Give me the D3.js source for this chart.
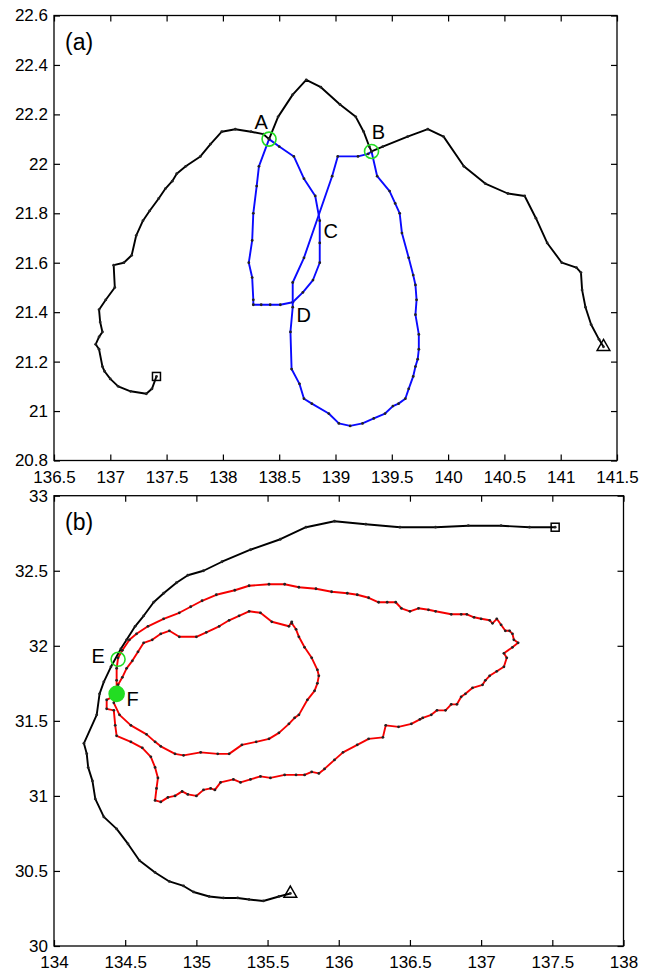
<!DOCTYPE html>
<html>
<head>
<meta charset="utf-8">
<script src="https://cdn.jsdelivr.net/npm/d3@7"></script>
<style>
  body { margin: 0; background: #fff; }
  svg { display: block; font-family: "Liberation Sans", Arial, sans-serif; }
</style>
</head>
<body>
<svg id="chart" width="651" height="971"></svg>
<script>
// ---- panel (a) data: [lon, lat] ----
const trackA = [
  [137.41, 21.14], [137.37, 21.09], [137.32, 21.07], [137.18, 21.08], [137.07, 21.10],
  [137.00, 21.13], [136.95, 21.16], [136.93, 21.18], [136.90, 21.25], [136.87, 21.27],
  [136.90, 21.30], [136.93, 21.32], [136.91, 21.36], [136.90, 21.41], [136.96, 21.45],
  [137.04, 21.50], [137.03, 21.59], [137.12, 21.60], [137.19, 21.63], [137.23, 21.71],
  [137.29, 21.77], [137.35, 21.81], [137.43, 21.86], [137.49, 21.90], [137.55, 21.93],
  [137.59, 21.96], [137.67, 21.99], [137.80, 22.03], [137.89, 22.08], [137.99, 22.13],
  [138.11, 22.14], [138.25, 22.13], [138.36, 22.12], [138.41, 22.10], [138.49, 22.19],
  [138.62, 22.28], [138.74, 22.34], [138.87, 22.31], [139.04, 22.24], [139.18, 22.19],
  [139.25, 22.13], [139.30, 22.07], [139.32, 22.05], [139.42, 22.07], [139.64, 22.11],
  [139.82, 22.14], [139.96, 22.11], [140.14, 21.99], [140.33, 21.92], [140.53, 21.88],
  [140.68, 21.87], [140.78, 21.78], [140.88, 21.68], [141.01, 21.60], [141.14, 21.58],
  [141.18, 21.56], [141.19, 21.49], [141.22, 21.42], [141.27, 21.35], [141.34, 21.29],
  [141.38, 21.26]
];
const blueLoopA1 = [
  [138.41, 22.10], [138.50, 22.07], [138.63, 22.03], [138.72, 21.94], [138.82, 21.87],
  [138.86, 21.77], [138.86, 21.68], [138.86, 21.60], [138.80, 21.53], [138.71, 21.48],
  [138.62, 21.44], [138.51, 21.43], [138.42, 21.43], [138.34, 21.43], [138.27, 21.43],
  [138.27, 21.45], [138.26, 21.54], [138.23, 21.60], [138.26, 21.69], [138.27, 21.80],
  [138.30, 21.91], [138.32, 21.99], [138.41, 22.10]
];
const blueLoopA2 = [
  [139.32, 22.05], [139.37, 21.95], [139.48, 21.89], [139.53, 21.84], [139.57, 21.80],
  [139.59, 21.72], [139.65, 21.62], [139.69, 21.55], [139.71, 21.51], [139.72, 21.45],
  [139.71, 21.39], [139.74, 21.31], [139.74, 21.25], [139.73, 21.21], [139.71, 21.18],
  [139.69, 21.14], [139.65, 21.09], [139.62, 21.05], [139.56, 21.03], [139.51, 21.02],
  [139.44, 20.99], [139.34, 20.97], [139.24, 20.95], [139.13, 20.94], [139.03, 20.95],
  [138.94, 20.99], [138.79, 21.03], [138.72, 21.05], [138.68, 21.11], [138.61, 21.17],
  [138.60, 21.32], [138.62, 21.42], [138.62, 21.52], [138.72, 21.62], [138.97, 21.95],
  [139.02, 22.03], [139.20, 22.03], [139.29, 22.04], [139.32, 22.05]
];
const circlesA = [
  { name: "A", lon: 138.41, lat: 22.10 },
  { name: "B", lon: 139.32, lat: 22.05 }
];
const crossingsA = [
  { name: "C", lon: 138.86, lat: 21.77 },
  { name: "D", lon: 138.62, lat: 21.43 }
];

// ---- panel (b) data ----
const trackB = [
  [137.52, 32.79], [137.34, 32.79], [137.14, 32.80], [136.91, 32.80], [136.68, 32.79],
  [136.43, 32.79], [136.19, 32.81], [135.97, 32.83], [135.77, 32.79], [135.59, 32.71],
  [135.38, 32.64], [135.18, 32.56], [135.05, 32.50], [134.94, 32.47], [134.86, 32.42],
  [134.77, 32.35], [134.70, 32.29], [134.63, 32.20], [134.57, 32.13], [134.51, 32.04],
  [134.47, 31.98], [134.40, 31.86], [134.35, 31.76], [134.32, 31.68], [134.30, 31.54],
  [134.21, 31.35], [134.23, 31.28], [134.24, 31.19], [134.27, 31.10], [134.29, 30.98],
  [134.35, 30.86], [134.44, 30.78], [134.52, 30.68], [134.60, 30.57], [134.71, 30.49],
  [134.81, 30.43], [134.91, 30.40], [134.98, 30.36], [135.09, 30.33], [135.19, 30.32],
  [135.29, 30.32], [135.37, 30.31], [135.47, 30.30], [135.58, 30.33], [135.66, 30.35]
];
const redTrackB = [
  [135.67, 32.15], [135.70, 32.11], [135.72, 32.06], [135.76, 31.99], [135.81, 31.92],
  [135.85, 31.84], [135.86, 31.80], [135.85, 31.75], [135.83, 31.70], [135.78, 31.64],
  [135.72, 31.54], [135.69, 31.52], [135.65, 31.48], [135.58, 31.42], [135.51, 31.38],
  [135.42, 31.36], [135.32, 31.34], [135.23, 31.28], [135.15, 31.28], [135.03, 31.29],
  [134.91, 31.27], [134.85, 31.28], [134.75, 31.33], [134.71, 31.36], [134.65, 31.41],
  [134.54, 31.47], [134.46, 31.54], [134.42, 31.62], [134.44, 31.68],
  [134.44, 31.77], [134.44, 31.85], [134.45, 31.92], [134.48, 31.97], [134.53, 32.04],
  [134.58, 32.08], [134.66, 32.13], [134.77, 32.18], [134.88, 32.22], [134.96, 32.26],
  [135.04, 32.30], [135.14, 32.34], [135.27, 32.37], [135.37, 32.40], [135.51, 32.41],
  [135.62, 32.41], [135.72, 32.39], [135.84, 32.38], [135.95, 32.36], [136.06, 32.35],
  [136.13, 32.34], [136.21, 32.32], [136.28, 32.29], [136.34, 32.29], [136.40, 32.29],
  [136.44, 32.25], [136.50, 32.23], [136.56, 32.25], [136.63, 32.24], [136.68, 32.23],
  [136.79, 32.21], [136.86, 32.21], [136.90, 32.21], [136.95, 32.19], [137.00, 32.18],
  [137.06, 32.17], [137.08, 32.15], [137.11, 32.18], [137.14, 32.14], [137.17, 32.10],
  [137.20, 32.10], [137.22, 32.08], [137.23, 32.04], [137.26, 32.02], [137.22, 31.99],
  [137.16, 31.95], [137.18, 31.92], [137.16, 31.86], [137.11, 31.83], [137.06, 31.80],
  [137.03, 31.77], [137.01, 31.74], [136.94, 31.72], [136.89, 31.68], [136.86, 31.66],
  [136.83, 31.61], [136.79, 31.61], [136.75, 31.57], [136.69, 31.57], [136.65, 31.54],
  [136.59, 31.52], [136.57, 31.51], [136.51, 31.48], [136.42, 31.46], [136.33, 31.47],
  [136.31, 31.39], [136.21, 31.38], [136.13, 31.34], [136.03, 31.29], [135.97, 31.24],
  [135.90, 31.18], [135.86, 31.15], [135.81, 31.16], [135.76, 31.14], [135.70, 31.14],
  [135.62, 31.14], [135.52, 31.12], [135.45, 31.13], [135.38, 31.11], [135.31, 31.09],
  [135.26, 31.11], [135.17, 31.09], [135.13, 31.04], [135.10, 31.05], [135.05, 31.04],
  [135.00, 31.00], [134.94, 31.01], [134.90, 31.03], [134.85, 31.00], [134.80, 30.99],
  [134.75, 30.96], [134.71, 30.97], [134.72, 31.05], [134.73, 31.12], [134.71, 31.19],
  [134.68, 31.26], [134.62, 31.32], [134.54, 31.36], [134.44, 31.40], [134.43, 31.47],
  [134.42, 31.57], [134.37, 31.58], [134.37, 31.64],
  [134.41, 31.66], [134.45, 31.74], [134.48, 31.79], [134.51, 31.85], [134.55, 31.90],
  [134.59, 31.96], [134.63, 32.02], [134.69, 32.04], [134.75, 32.08], [134.81, 32.10],
  [134.88, 32.06], [135.00, 32.06], [135.07, 32.09], [135.16, 32.13], [135.23, 32.17],
  [135.30, 32.20], [135.37, 32.23], [135.45, 32.22], [135.53, 32.16], [135.65, 32.13],
  [135.67, 32.16]
];
const circlesB = [
  { name: "E", lon: 134.45, lat: 31.91, filled: false },
  { name: "F", lon: 134.44, lat: 31.68, filled: true }
];

const xTicksA = [136.5, 137, 137.5, 138, 138.5, 139, 139.5, 140, 140.5, 141, 141.5];
const yTicksA = [20.8, 21, 21.2, 21.4, 21.6, 21.8, 22, 22.2, 22.4, 22.6];
const xTicksB = [134, 134.5, 135, 135.5, 136, 136.5, 137, 137.5, 138];
const yTicksB = [30, 30.5, 31, 31.5, 32, 32.5, 33];

const svg = d3.select("#chart");
const GREEN = "#22dd22";

function makePanel(box, xTicks, yTicks, tag) {
  const x = d3.scaleLinear().domain(d3.extent(xTicks)).range([box.left, box.right]);
  const y = d3.scaleLinear().domain(d3.extent(yTicks)).range([box.bottom, box.top]);
  const g = svg.append("g");

  const bottom = g.append("g")
    .attr("transform", `translate(0,${box.bottom})`)
    .call(d3.axisBottom(x).tickValues(xTicks).tickSizeInner(-6).tickSizeOuter(0)
      .tickPadding(10).tickFormat(d => String(d)));
  const top = g.append("g")
    .attr("transform", `translate(0,${box.top})`)
    .call(d3.axisTop(x).tickValues(xTicks).tickSizeInner(-6).tickSizeOuter(0).tickFormat(""));
  const left = g.append("g")
    .attr("transform", `translate(${box.left},0)`)
    .call(d3.axisLeft(y).tickValues(yTicks).tickSizeInner(-6).tickSizeOuter(0)
      .tickPadding(6).tickFormat(d => String(d)));
  const right = g.append("g")
    .attr("transform", `translate(${box.right},0)`)
    .call(d3.axisRight(y).tickValues(yTicks).tickSizeInner(-6).tickSizeOuter(0).tickFormat(""));

  [bottom, top, left, right].forEach(a => {
    a.select(".domain").remove();
    a.selectAll("line").attr("stroke", "#000").attr("stroke-width", 1.2);
    a.selectAll("text").attr("fill", "#000").attr("font-size", 17)
      .attr("font-family", "Liberation Sans, Arial, sans-serif");
  });

  g.append("rect")
    .attr("x", box.left).attr("y", box.top)
    .attr("width", box.right - box.left).attr("height", box.bottom - box.top)
    .attr("fill", "none").attr("stroke", "#000").attr("stroke-width", 1.3);

  g.append("text")
    .attr("x", box.left + 11).attr("y", box.top + 34)
    .attr("font-size", 23).attr("fill", "#000")
    .text(tag);

  return { g, x, y };
}

function drawTrack(p, pts, color) {
  const line = d3.line().x(d => p.x(d[0])).y(d => p.y(d[1]));
  p.g.append("path")
    .attr("d", line(pts))
    .attr("fill", "none")
    .attr("stroke", color)
    .attr("stroke-width", 1.9)
    .attr("stroke-linejoin", "round");
  p.g.append("g")
    .selectAll("circle")
    .data(pts)
    .enter().append("circle")
    .attr("cx", d => p.x(d[0]))
    .attr("cy", d => p.y(d[1]))
    .attr("r", 1.4)
    .attr("fill", "#222");
}

function drawEnds(p, pts) {
  const first = pts[0], last = pts[pts.length - 1];
  p.g.append("rect")
    .attr("x", p.x(first[0]) - 4).attr("y", p.y(first[1]) - 4)
    .attr("width", 8).attr("height", 8)
    .attr("fill", "none").attr("stroke", "#000").attr("stroke-width", 1.5);
  p.g.append("path")
    .attr("transform", `translate(${p.x(last[0])},${p.y(last[1])})`)
    .attr("d", d3.symbol().type(d3.symbolTriangle).size(70)())
    .attr("fill", "none").attr("stroke", "#000").attr("stroke-width", 1.5);
}

// panel (a)
const pa = makePanel({ left: 54, right: 617, top: 15.5, bottom: 460.5 }, xTicksA, yTicksA, "(a)");
drawTrack(pa, trackA, "#000");
drawTrack(pa, blueLoopA1, "#0a0aff");
drawTrack(pa, blueLoopA2, "#0a0aff");
drawEnds(pa, trackA);

const labelOffA = { A: [-8, -10], B: [7, -12] };
circlesA.forEach(c => {
  pa.g.append("circle")
    .attr("cx", pa.x(c.lon)).attr("cy", pa.y(c.lat)).attr("r", 7)
    .attr("fill", "none").attr("stroke", GREEN).attr("stroke-width", 1.6);
  pa.g.append("text")
    .attr("x", pa.x(c.lon) + labelOffA[c.name][0])
    .attr("y", pa.y(c.lat) + labelOffA[c.name][1])
    .attr("text-anchor", "middle").attr("font-size", 20)
    .text(c.name);
});
crossingsA.forEach(c => {
  pa.g.append("text")
    .attr("x", pa.x(c.lon) + 11)
    .attr("y", pa.y(c.lat) + 17)
    .attr("text-anchor", "middle").attr("font-size", 20)
    .text(c.name);
});

// panel (b)
const pb = makePanel({ left: 54, right: 623.5, top: 495.7, bottom: 946 }, xTicksB, yTicksB, "(b)");
drawTrack(pb, trackB, "#000");
drawTrack(pb, redTrackB, "#f50000");
drawEnds(pb, trackB);

const labelOffB = { E: [-20, 4], F: [16, 12] };
circlesB.forEach(c => {
  pb.g.append("circle")
    .attr("cx", pb.x(c.lon)).attr("cy", pb.y(c.lat)).attr("r", c.filled ? 7.5 : 7)
    .attr("fill", c.filled ? GREEN : "none")
    .attr("stroke", GREEN).attr("stroke-width", 1.6);
  pb.g.append("text")
    .attr("x", pb.x(c.lon) + labelOffB[c.name][0])
    .attr("y", pb.y(c.lat) + labelOffB[c.name][1])
    .attr("text-anchor", "middle").attr("font-size", 20)
    .text(c.name);
});
</script>
</body>
</html>
